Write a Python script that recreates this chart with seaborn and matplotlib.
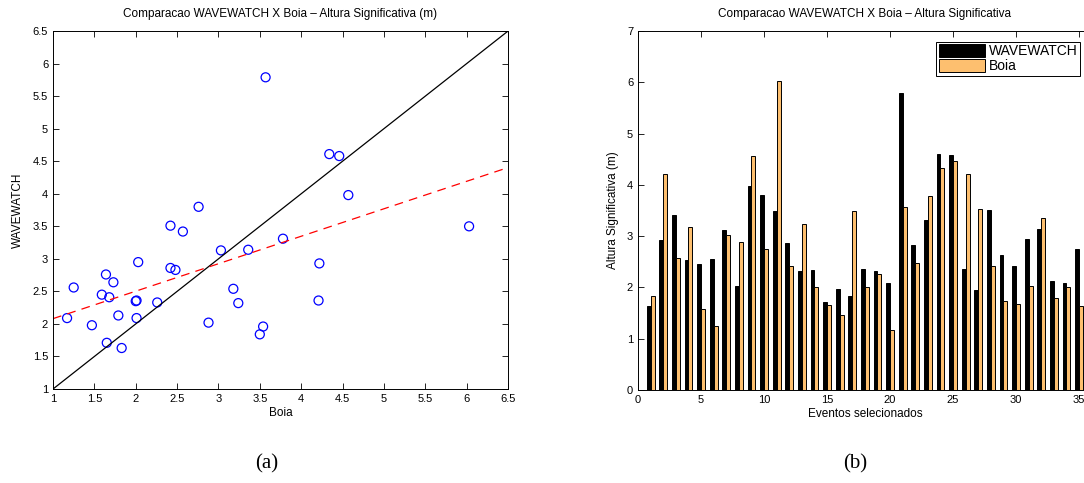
import numpy as np
import pandas as pd
import matplotlib.pyplot as plt
import seaborn as sns

# Altura significativa (m) por evento selecionado
eventos = list(range(1, 36))
wavewatch = [1.63, 2.93, 3.42, 2.54, 2.45, 2.56, 3.13, 2.02, 3.98, 3.80,
             3.50, 2.86, 2.32, 2.35, 1.71, 1.98, 1.84, 2.36, 2.33, 2.09,
             5.79, 2.83, 3.31, 4.61, 4.58, 2.36, 1.96, 3.51, 2.64, 2.41,
             2.95, 3.14, 2.13, 2.09, 2.76]
boia = [1.83, 4.22, 2.57, 3.18, 1.59, 1.25, 3.03, 2.88, 4.57, 2.76,
        6.03, 2.42, 3.24, 2.00, 1.65, 1.47, 3.50, 2.01, 2.26, 1.17,
        3.57, 2.48, 3.78, 4.34, 4.46, 4.21, 3.54, 2.42, 1.73, 1.68,
        2.03, 3.36, 1.79, 2.01, 1.64]

sns.set_theme(style="ticks")
plt.rcParams.update({
    'font.family': ['Liberation Sans', 'DejaVu Sans'],
    'axes.linewidth': 0.7,
    'axes.edgecolor': 'black',
    'xtick.color': 'black',
    'ytick.color': 'black',
    'text.color': 'black',
    'axes.labelcolor': 'black',
    'xtick.direction': 'in',
    'ytick.direction': 'in',
    'xtick.top': True,
    'ytick.right': True,
    'xtick.major.size': 4,
    'ytick.major.size': 4,
    'xtick.major.width': 0.6,
    'ytick.major.width': 0.6,
    'xtick.labelsize': 8,
    'ytick.labelsize': 8,
})

fig = plt.figure(figsize=(10.84, 4.83), dpi=100)
ax1 = fig.add_axes([0.0489, 0.1946, 0.4197, 0.741])
ax2 = fig.add_axes([0.5886, 0.1925, 0.4185, 0.743])

# (a) dispersao
df = pd.DataFrame({'boia': boia, 'ww': wavewatch})
sns.scatterplot(data=df, x='boia', y='ww', ax=ax1, marker='o', s=42,
                facecolor='none', edgecolor='blue', linewidth=0.9)
lims = [1, 6.5]
ax1.plot(lims, lims, color='black', lw=0.9)
coef = np.polyfit(df['boia'], df['ww'], 1)
xs = np.array(lims)
ax1.plot(xs, np.polyval(coef, xs), color='red', ls='--', lw=0.9, dashes=(7, 5))
ax1.set_xlim(lims)
ax1.set_ylim(lims)
ticks = np.arange(1, 6.51, 0.5)
ax1.set_xticks(ticks)
ax1.set_yticks(ticks)
ax1.set_xticklabels([f'{t:g}' for t in ticks])
ax1.set_yticklabels([f'{t:g}' for t in ticks])
ax1.set_title('Comparacao WAVEWATCH X Boia \u2013 Altura Significativa (m)', fontsize=8.5, pad=10)
ax1.set_xlabel('Boia', fontsize=8.5, labelpad=2)
ax1.set_ylabel('WAVEWATCH', fontsize=8.5, labelpad=6)

# (b) barras
long = pd.DataFrame({
    'evento': eventos * 2,
    'altura': wavewatch + boia,
    'serie': ['WAVEWATCH'] * len(eventos) + ['Boia'] * len(eventos),
})
sns.barplot(data=long, x='evento', y='altura', hue='serie', native_scale=True,
            palette={'WAVEWATCH': 'black', 'Boia': '#fdbf6f'}, width=0.62,
            saturation=1, edgecolor='black', linewidth=0.7, ax=ax2, errorbar=None)
ax2.set_xlim(0, 36)
ax2.set_ylim(0, 7)
ax2.set_xticks(range(0, 36, 5))
ax2.set_yticks(range(0, 8))
ax2.set_title('Comparacao WAVEWATCH X Boia \u2013 Altura Significativa', fontsize=8.5, pad=10)
ax2.set_xlabel('Eventos selecionados', fontsize=8.5, labelpad=2)
ax2.set_ylabel('Altura Significativa (m)', fontsize=8.5, labelpad=6)
leg = ax2.legend(loc='upper right', bbox_to_anchor=(0.99, 0.99), fontsize=10,
                 handlelength=3.3, handleheight=1.0, borderpad=0.2,
                 labelspacing=0.05, handletextpad=0.3, fancybox=False,
                 edgecolor='black', framealpha=1)
leg.get_frame().set_linewidth(0.7)

fig.text(0.246, 0.03, '(a)', fontsize=15, family='Liberation Serif', ha='center')
fig.text(0.789, 0.03, '(b)', fontsize=15, family='Liberation Serif', ha='center')

fig.savefig('out.png', dpi=100)
